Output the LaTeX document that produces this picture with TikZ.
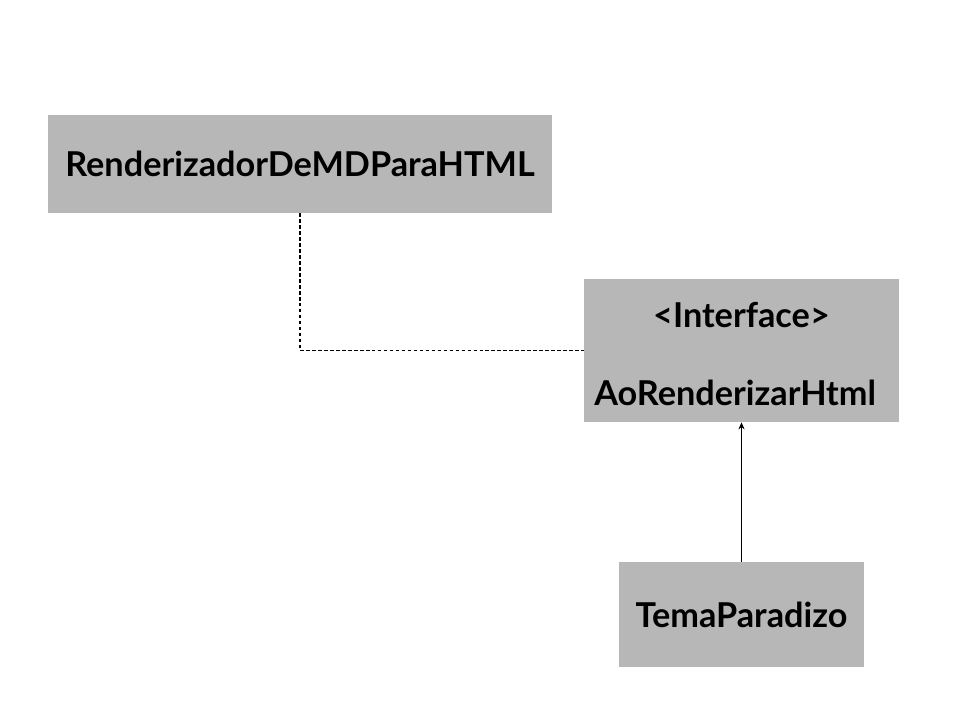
\documentclass[tikz,border=0pt]{standalone}
\usepackage{fontspec}
\setmainfont{Lato}
\usepackage{xcolor}
\usetikzlibrary{arrows.meta,positioning}
\definecolor{boxgray}{HTML}{B7B7B7}

\begin{document}
\begin{tikzpicture}[
  every node/.style={font=\fontsize{19.5}{23}\selectfont\bfseries},
  cls/.style={fill=boxgray, draw=none, inner sep=0pt, align=center},
  arr/.style={-{Stealth[length=4pt,width=3.5pt]}, line width=0.6pt},
  dep/.style={dash pattern=on 2pt off 1.4pt, line width=0.6pt}
]
\useasboundingbox (0,0) rectangle (19.2,-14.4);

\node[cls, minimum width=10.08cm, minimum height=1.96cm] (renderer)
  at (6.0,-3.28) {RenderizadorDeMDParaHTML};

\node[cls, minimum width=6.3cm, minimum height=2.86cm] (iface)
  at (14.83,-7.01) {};
\node[anchor=center] (ifacetag) at (14.83,-6.3) {<Interface>};
\node[anchor=west, inner sep=0pt] (ifacename) at (11.88,-7.86) {AoRenderizarHtml};

\node[cls, minimum width=4.9cm, minimum height=2.1cm] (tema)
  at (14.83,-12.29) {TemaParadizo};

\draw[dep] (renderer.south) |- (iface.west);
\draw[arr] (tema.north) -- (iface.south);
\end{tikzpicture}
\end{document}
